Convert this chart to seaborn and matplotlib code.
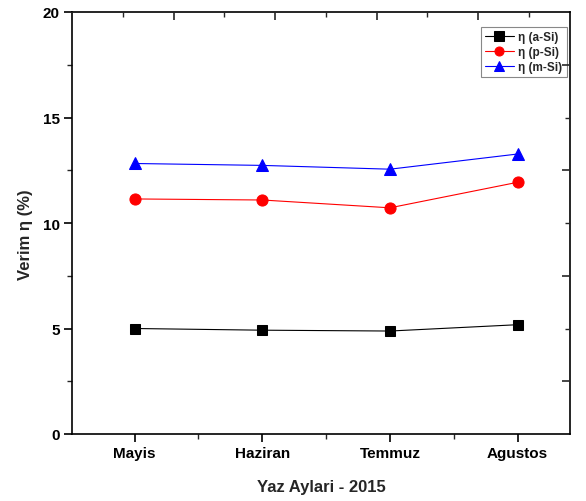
import matplotlib
matplotlib.use("Agg")
import matplotlib.pyplot as plt
import seaborn as sns
import pandas as pd
from matplotlib.ticker import MultipleLocator, FixedLocator, NullFormatter

sns.set_style("white")
plt.rcParams['font.family'] = ['Liberation Sans', 'DejaVu Sans']

months = ["Mayis", "Haziran", "Temmuz", "Agustos"]
a_si = [5.0, 4.92, 4.88, 5.18]
p_si = [11.14, 11.09, 10.72, 11.93]
m_si = [12.82, 12.73, 12.55, 13.27]
series_names = ["η (a-Si)", "η (p-Si)", "η (m-Si)"]
colors = ["#000000", "#ff0000", "#0000ff"]
markers = ["s", "o", "^"]
msizes = [7, 8, 8.5]

fig = plt.figure(figsize=(5.86, 5.02), dpi=100)
ax = fig.add_axes([72/586, 67/502, 498/586, 422/502])

for vals, name, c, m, ms in zip([a_si, p_si, m_si], series_names, colors, markers, msizes):
    df = pd.DataFrame({"month": months, "val": vals})
    sns.lineplot(data=df, x="month", y="val", ax=ax, color=c, marker=m,
                 markersize=ms, markeredgecolor=c, linewidth=0.8, label=name, sort=False)

ax.set_xlim(-0.49, 3.41)
ax.set_ylim(0, 20)
ax.yaxis.set_major_locator(MultipleLocator(5))
ax.yaxis.set_minor_locator(MultipleLocator(2.5))
ax.xaxis.set_minor_locator(FixedLocator([-0.5, 0.5, 1.5, 2.5, 3.5]))
ax.tick_params(axis='both', which='major', direction='out', length=6, width=1.2,
               labelsize=11, colors='black', bottom=True, left=True, pad=3)
ax.tick_params(axis='both', which='minor', direction='out', length=3.5, width=1.0,
               bottom=True, left=True)
for lab in ax.get_xticklabels() + ax.get_yticklabels():
    lab.set_fontweight('bold')
ax.set_xlabel("Yaz Aylari - 2015", fontsize=12, fontweight='bold', labelpad=13)
ax.set_ylabel("Verim η (%)", fontsize=12, fontweight='bold')
ax.yaxis.set_label_coords(-0.078, 0.474)
for sp in ax.spines.values():
    sp.set_color('black')
    sp.set_linewidth(1.2)

# top axis ticks (inward)
axt = ax.twiny()
axt.set_xlim(0, 498/101.5)
axt.xaxis.set_major_locator(MultipleLocator(1))
axt.xaxis.set_minor_locator(MultipleLocator(0.5))
axt.xaxis.set_major_formatter(NullFormatter())
axt.tick_params(axis='x', which='major', direction='in', length=6, width=1.2, top=True)
axt.tick_params(axis='x', which='minor', direction='in', length=3.5, width=1.0, top=True)
for sp in axt.spines.values():
    sp.set_visible(False)

# right axis ticks (inward)
axr = ax.twinx()
axr.set_ylim(0, 20)
axr.yaxis.set_major_locator(FixedLocator([2.5, 7.5, 12.5, 17.5]))
axr.yaxis.set_minor_locator(FixedLocator([5, 10, 15]))
axr.yaxis.set_major_formatter(NullFormatter())
axr.tick_params(axis='y', which='major', direction='in', length=6, width=1.2, right=True)
axr.tick_params(axis='y', which='minor', direction='in', length=3.5, width=1.0, right=True)
for sp in axr.spines.values():
    sp.set_visible(False)

leg = ax.legend(loc='upper right', bbox_to_anchor=(0.993, 0.965), fancybox=False,
                framealpha=1, edgecolor='#888888', prop={'weight': 'bold', 'size': 8.5},
                handlelength=2.4, handletextpad=0.4, borderpad=0.35, labelspacing=0.25,
                borderaxespad=0)
leg.get_frame().set_linewidth(0.8)
for h in leg.legend_handles:
    h.set_markersize(6.5)

fig.savefig("out.png", dpi=100)
